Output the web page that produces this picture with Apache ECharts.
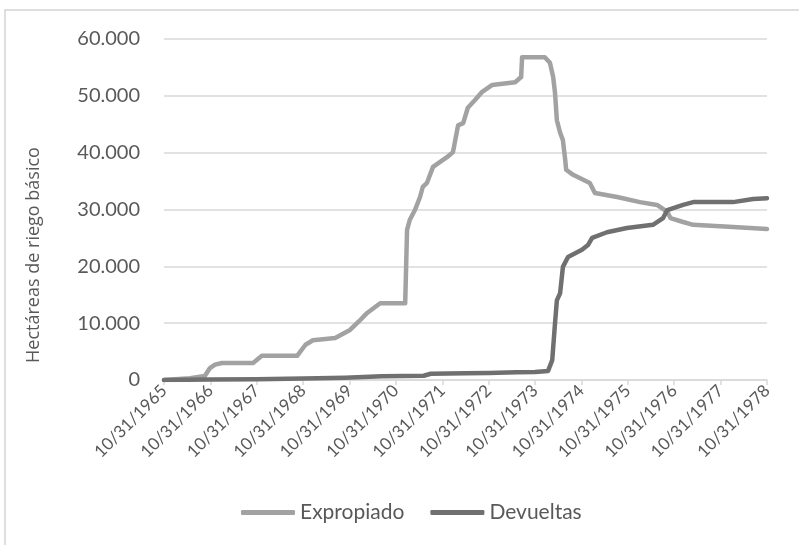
<!DOCTYPE html>
<html>
<head>
<meta charset="utf-8">
<script src="https://cdn.jsdelivr.net/npm/echarts@6/dist/echarts.min.js"></script>
<style>
  html, body { margin: 0; padding: 0; background: #fff; }
  #chart { width: 799px; height: 545px; }
</style>
</head>
<body>
<div id="chart"></div>
<script>
// Tick labels: one per year, every 31 October
const tickYears = [1965, 1966, 1967, 1968, 1969, 1970, 1971, 1972, 1973, 1974, 1975, 1976, 1977, 1978];

// Time in years since 10/31/1965 and hectares of basic irrigation
const expT = [0, 0.56, 0.88, 0.99, 1.10, 1.25, 1.92, 2.11, 2.87, 3.05, 3.21, 3.69, 4.01, 4.20, 4.38, 4.66, 5.20, 5.22, 5.24, 5.30, 5.41, 5.52, 5.58, 5.67, 5.80, 6.10, 6.23, 6.34, 6.45, 6.55, 6.71, 6.86, 7.07, 7.57, 7.70, 7.72, 8.21, 8.32, 8.39, 8.43, 8.47, 8.54, 8.60, 8.65, 8.67, 8.82, 9.18, 9.29, 9.77, 10.26, 10.63, 10.85, 10.92, 11.19, 11.41, 12.27, 13.0];
const expV = [0, 300, 700, 2100, 2700, 3000, 3000, 4250, 4250, 6200, 7000, 7400, 8800, 10300, 11800, 13500, 13500, 20000, 26400, 28200, 29900, 32200, 34000, 34700, 37500, 39200, 40100, 44800, 45200, 47900, 49300, 50700, 51900, 52400, 53300, 56800, 56800, 55800, 53300, 50500, 45700, 43500, 42200, 38700, 37000, 36100, 34650, 32900, 32200, 31300, 30800, 29600, 28500, 27800, 27300, 26900, 26550];

const devT = [0, 1.0, 2.0, 3.0, 3.9, 4.7, 5.6, 5.75, 6.5, 7.0, 7.6, 8.0, 8.28, 8.37, 8.43, 8.47, 8.54, 8.60, 8.71, 9.01, 9.14, 9.23, 9.55, 9.98, 10.54, 10.76, 10.85, 11.19, 11.41, 12.27, 12.70, 13.0];
const devV = [0, 100, 150, 250, 400, 650, 750, 1100, 1200, 1250, 1350, 1400, 1600, 3500, 10000, 14000, 15300, 19900, 21650, 22900, 23750, 25000, 26000, 26750, 27300, 28500, 29900, 30800, 31300, 31300, 31850, 32000];

const yTitle = 'Hectáreas de riego básico';

const pairs = (t, v) => t.map((x, i) => [x, v[i]]);
const fmtThousands = v => v === 0 ? '0' : String(v).replace(/\B(?=(\d{3})+(?!\d))/g, '.');

const font = 'Lato, "Open Sans", sans-serif';
const textColor = '#595959';
const gridColor = '#d9d9d9';

const chart = echarts.init(document.getElementById('chart'));
chart.setOption({
  animation: false,
  backgroundColor: '#fff',
  graphic: [
    {
      type: 'rect',
      shape: { x: 5, y: 10, width: 900, height: 700 },
      style: { fill: 'none', stroke: '#d4d4d4', lineWidth: 1.5 },
      silent: true
    },
    {
      // vertical axis title, sitting a little below the axis midpoint
      type: 'text',
      x: 34,
      y: 255,
      rotation: Math.PI / 2,
      style: {
        text: yTitle,
        fontFamily: '"Open Sans", sans-serif',
        fontSize: 18,
        fill: textColor,
        align: 'center',
        verticalAlign: 'middle'
      },
      silent: true
    }
  ],
  grid: { left: 164, right: 32, top: 39, bottom: 165 },
  legend: {
    left: 236,
    top: 497,
    itemWidth: 54,
    itemHeight: 5,
    itemGap: 26,
    icon: 'roundRect',
    textStyle: { fontFamily: font, fontSize: 21, color: textColor },
    data: ['Expropiado', 'Devueltas']
  },
  xAxis: {
    type: 'value',
    min: 0,
    max: 13,
    interval: 1,
    axisLine: { show: true, lineStyle: { color: gridColor, width: 1.5 } },
    axisTick: { show: true, length: 5, lineStyle: { color: gridColor, width: 1.5 } },
    splitLine: { show: false },
    axisLabel: {
      rotate: 45,
      margin: 8,
      fontFamily: font,
      fontSize: 17,
      color: textColor,
      formatter: v => '10/31/' + tickYears[Math.round(v)]
    }
  },
  yAxis: {
    type: 'value',
    min: 0,
    max: 60000,
    interval: 10000,
    axisLine: { show: false },
    axisTick: { show: false },
    splitLine: { lineStyle: { color: gridColor, width: 1.5 } },
    axisLabel: {
      margin: 24,
      fontFamily: font,
      fontSize: 20,
      color: textColor,
      formatter: fmtThousands
    }
  },
  series: [
    {
      name: 'Expropiado',
      type: 'line',
      data: pairs(expT, expV),
      showSymbol: false,
      symbol: 'none',
      color: '#a2a2a2',
      lineStyle: { width: 4.5, color: '#a2a2a2', join: 'round', cap: 'round' },
      z: 3
    },
    {
      name: 'Devueltas',
      type: 'line',
      data: pairs(devT, devV),
      showSymbol: false,
      symbol: 'none',
      color: '#707070',
      lineStyle: { width: 4.5, color: '#707070', join: 'round', cap: 'round' },
      z: 4
    }
  ]
});
</script>
</body>
</html>
